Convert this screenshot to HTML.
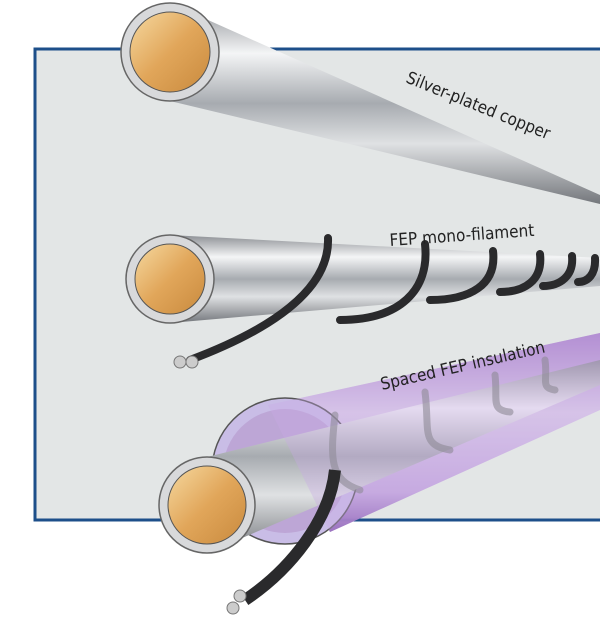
<!DOCTYPE html>
<html><head><style>html,body{margin:0;padding:0;background:#fff}svg{display:block}text{font-family:"DejaVu Sans Condensed","DejaVu Sans",sans-serif;fill:#222;font-size:17px}</style></head>
<body>
<svg width="600" height="624" viewBox="0 0 600 624" xmlns="http://www.w3.org/2000/svg">
<defs>
<linearGradient id="cu" x1="0" y1="0" x2="1" y2="1"><stop offset="0" stop-color="#f6d9a0"/><stop offset="0.5" stop-color="#e1a65a"/><stop offset="1" stop-color="#c98a3e"/></linearGradient>
<linearGradient id="s1" x1="0" y1="0" x2="0" y2="1"><stop offset="0" stop-color="#8c8f94"/><stop offset="0.25" stop-color="#f4f5f6"/><stop offset="0.5" stop-color="#a7abb0"/><stop offset="0.7" stop-color="#dfe1e3"/><stop offset="1" stop-color="#74777c"/></linearGradient>
<linearGradient id="pu" x1="0" y1="0" x2="0" y2="1"><stop offset="0" stop-color="#a57cc8"/><stop offset="0.4" stop-color="#ddd0ea"/><stop offset="0.8" stop-color="#c4a8de"/><stop offset="1" stop-color="#7d4ea8"/></linearGradient>
</defs>
<rect x="35" y="49" width="570" height="471" fill="#e3e6e6" stroke="#1d4f8a" stroke-width="3"/>
<!-- wire 1 -->
<polygon points="170,3 600,195 600,204 170,101" fill="url(#s1)"/>
<circle cx="170" cy="52" r="49" fill="#d8d9db" stroke="#666" stroke-width="1.5"/>
<circle cx="170" cy="52" r="40" fill="url(#cu)" stroke="#555" stroke-width="1"/>
<text transform="translate(405,82) rotate(22)">Silver-plated copper</text>
<!-- wire 2 -->
<polygon points="170,235 600,258 600,286 170,323" fill="url(#s1)"/>
<g fill="none" stroke="#2a2a2c" stroke-width="8" stroke-linecap="round">
<path d="M328,238 C330,290 270,330 190,360"/>
<path d="M425,244 C430,290 400,320 340,320"/>
<path d="M493,251 C497,285 470,300 430,300"/>
<path d="M540,254 C543,280 525,292 500,292"/>
<path d="M572,256 C574,276 560,286 543,286"/>
<path d="M595,258 C596,274 588,282 578,282"/>
</g>
<circle cx="180" cy="362" r="6" fill="#ccc" stroke="#777"/><circle cx="192" cy="362" r="6" fill="#ccc" stroke="#777"/>
<circle cx="170" cy="279" r="44" fill="#d8d9db" stroke="#666" stroke-width="1.5"/>
<circle cx="170" cy="279" r="35" fill="url(#cu)" stroke="#555" stroke-width="1"/>
<text transform="translate(390,246) rotate(-4)">FEP mono-filament</text>
<!-- wire 3 -->
<polygon points="268,405 600,333 600,410 330,532" fill="url(#pu)" opacity="0.95"/>
<circle cx="285" cy="471" r="73" fill="#c9bde6" stroke="#555" stroke-width="1.5"/>
<circle cx="285" cy="471" r="62" fill="#bda6d6"/>
<polygon points="207,457 600,360 600,385 207,553" fill="url(#s1)"/>
<polygon points="268,405 600,333 600,410 330,532" fill="#c9a8e6" opacity="0.35"/>
<g fill="none" stroke="#8e8a96" stroke-width="7" stroke-linecap="round" opacity="0.6">
<path d="M335,415 C330,460 330,480 360,490"/>
<path d="M425,392 C430,430 420,445 450,450"/>
<path d="M495,375 C498,400 490,410 510,412"/>
<path d="M545,360 C548,380 540,388 555,390"/>
</g>
<path d="M335,470 C330,520 290,570 245,600" fill="none" stroke="#2a2a2c" stroke-width="12"/>
<circle cx="240" cy="596" r="6" fill="#ccc" stroke="#777"/><circle cx="233" cy="608" r="6" fill="#ccc" stroke="#777"/>
<circle cx="207" cy="505" r="48" fill="#d8d9db" stroke="#666" stroke-width="1.5"/>
<circle cx="207" cy="505" r="39" fill="url(#cu)" stroke="#555" stroke-width="1"/>
<text transform="translate(382,390) rotate(-13)">Spaced FEP insulation</text>
</svg>
</body></html>
